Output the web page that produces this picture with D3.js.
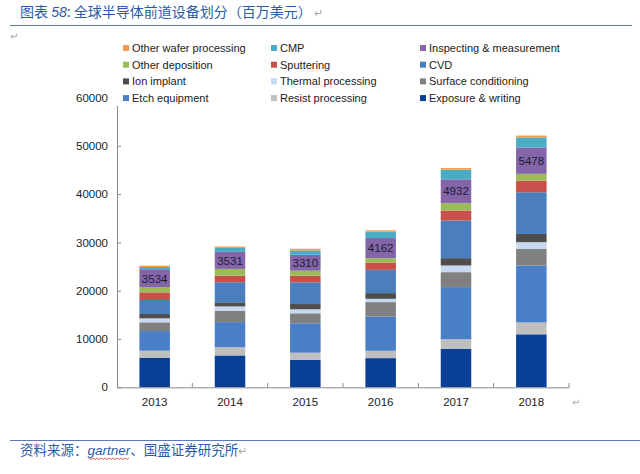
<!DOCTYPE html>
<html>
<head>
<meta charset="utf-8">
<script src="https://cdn.jsdelivr.net/npm/d3@7"></script>
<style>
  body { margin: 0; background: #fff; }
  svg { display: block; }
  .tick text { font-family: "Liberation Sans", Arial, sans-serif; font-size: 11.5px; fill: #222; }
</style>
</head>
<body>
<svg id="chart" width="640" height="474"></svg>
<script>
// years along the x axis
var years = ["2013", "2014", "2015", "2016", "2017", "2018"];

// series, bottom of the stack first
var seriesNames = ["Exposure & writing", "Resist processing", "Etch equipment", "Surface conditioning",
                   "Thermal processing", "Ion implant", "CVD", "Sputtering", "Other deposition",
                   "Inspecting & measurement", "CMP", "Other wafer processing"];
var seriesColors = ["#0a3f96", "#bfbfbf", "#4a7fc8", "#808080",
                    "#c6d9f0", "#4d4d4d", "#4b7ebd", "#c9504a", "#9bbb59",
                    "#8466a8", "#49adc6", "#f59a4e"];

// values in million USD
var exposure   = [6130, 6600, 5650, 6040, 8000, 10970];
var resist     = [1450, 1700, 1510, 1520, 1940, 2450];
var etch       = [4070, 5200, 6090, 7100, 10800, 11800];
var surface    = [1800, 2350, 2070, 2980, 3100, 3450];
var thermal    = [830, 900, 830, 680, 1380, 1380];
var ionImplant = [890, 850, 1090, 1180, 1520, 1700];
var cvd        = [2900, 4150, 4500, 4820, 7800, 8630];
var sputtering = [1590, 1370, 1360, 1510, 2070, 2420];
var otherDep   = [1100, 1390, 1040, 910, 1510, 1390];
var inspecting = [3534, 3531, 3310, 4162, 4932, 5478];
var cmp        = [620, 800, 880, 1300, 2000, 2070];
var otherWafer = [270, 300, 350, 300, 340, 380];

var yTicks = [0, 10000, 20000, 30000, 40000, 50000, 60000];

var allSeries = [exposure, resist, etch, surface, thermal, ionImplant, cvd,
                 sputtering, otherDep, inspecting, cmp, otherWafer];

// table for d3.stack
var rows = years.map(function(y, i){
    var r = {year: y};
    seriesNames.forEach(function(n, j){ r[n] = allSeries[j][i]; });
    return r;
});

var svg = d3.select("#chart");

var x = d3.scaleBand().domain(years).range([117, 569]).paddingInner(0.595).paddingOuter(0.2975);
var y = d3.scaleLinear().domain([0, 60000]).range([387.3, 97.5]);
var color = d3.scaleOrdinal().domain(seriesNames).range(seriesColors);

var stacked = d3.stack().keys(seriesNames)(rows);

// bars
svg.append("g").selectAll("g")
    .data(stacked).enter().append("g")
    .attr("fill", function(d){ return color(d.key); })
    .selectAll("rect")
    .data(function(d){ return d; }).enter().append("rect")
    .attr("x", function(d){ return x(d.data.year); })
    .attr("width", x.bandwidth())
    .attr("y", function(d){ return y(d[1]); })
    .attr("height", function(d){ return y(d[0]) - y(d[1]); });

// value labels on the inspecting segment
var insp = stacked[seriesNames.indexOf("Inspecting & measurement")];
svg.append("g").selectAll("text")
    .data(insp).enter().append("text")
    .attr("x", function(d){ return x(d.data.year) + x.bandwidth()/2; })
    .attr("y", function(d){ return (y(d[0]) + y(d[1]))/2; })
    .attr("dy", "0.36em")
    .attr("text-anchor", "middle")
    .style("font-family", "Liberation Sans, Arial, sans-serif")
    .style("font-size", "11.5px")
    .style("fill", "#1b1b33")
    .text(function(d){ return d.data["Inspecting & measurement"]; });

// y axis, ticks point inward
var yAxis = svg.append("g").attr("transform", "translate(117,0)")
    .call(d3.axisLeft(y).tickValues(yTicks).tickSize(-4).tickSizeOuter(0).tickPadding(9).tickFormat(d3.format("d")));
yAxis.selectAll("line, path").attr("stroke", "#8a8a8a");

// x axis, labels centred, ticks at category boundaries
var xAxis = svg.append("g").attr("transform", "translate(0,387.3)")
    .call(d3.axisBottom(x).tickSize(0).tickSizeOuter(0).tickPadding(11));
xAxis.select("path").attr("stroke", "#8a8a8a");
var step = x.step();
svg.append("g").selectAll("line")
    .data(years).enter().append("line")
    .attr("x1", function(d, i){ return 117 + step*(i+1); })
    .attr("x2", function(d, i){ return 117 + step*(i+1); })
    .attr("y1", 387.3).attr("y2", 383)
    .attr("stroke", "#8a8a8a");

// legend (covers the top of the axis like the original)
svg.append("rect").attr("x", 110).attr("y", 38).attr("width", 480).attr("height", 68).attr("fill", "#fff");
var legendNames = seriesNames.slice().reverse();
var colX = [123, 271, 420];
var legend = svg.append("g").selectAll("g")
    .data(legendNames).enter().append("g")
    .attr("transform", function(d, i){
        return "translate(" + colX[i % 3] + "," + (48 + Math.floor(i/3)*16.7) + ")";
    });
legend.append("rect").attr("x", 0).attr("y", -3).attr("width", 6).attr("height", 6)
    .attr("fill", function(d){ return color(d); });
legend.append("text").attr("x", 9).attr("dy", "0.36em")
    .style("font-family", "Liberation Sans, Arial, sans-serif")
    .style("font-size", "11px")
    .style("fill", "#222")
    .text(function(d){ return d; });

// title and source, as in the report page
var blue = "#2b5ba8";
var title = svg.append("text").attr("x", 20).attr("y", 17)
    .style("font-family", "Noto Sans CJK SC, sans-serif").style("font-size", "14px").style("fill", blue);
title.append("tspan").text("图表 ");
title.append("tspan").style("font-style", "italic").style("font-family", "Liberation Sans, sans-serif").text(" 58");
title.append("tspan").text(":  全球半导体前道设备划分（百万美元）");
title.append("tspan").style("fill", "#aaa").style("font-size", "11px").text(" ↵");

svg.append("line").attr("x1", 10).attr("x2", 632).attr("y1", 25.5).attr("y2", 25.5)
    .attr("stroke", "#5a7bb5").attr("stroke-width", 1.2);
svg.append("text").attr("x", 10).attr("y", 40).style("font-size", "10px").style("fill", "#aaa")
    .style("font-family", "DejaVu Sans, sans-serif").text("↵");
svg.append("text").attr("x", 572).attr("y", 406).style("font-size", "10px").style("fill", "#aaa")
    .style("font-family", "DejaVu Sans, sans-serif").text("↵");

svg.append("line").attr("x1", 10).attr("x2", 640).attr("y1", 440.5).attr("y2", 440.5)
    .attr("stroke", "#5a7bb5").attr("stroke-width", 1);
var source = svg.append("text").attr("x", 20).attr("y", 455)
    .style("font-family", "Noto Sans CJK SC, sans-serif").style("font-size", "13.5px").style("fill", blue);
source.append("tspan").text("资料来源：");
source.append("tspan").style("font-style", "italic")
    .style("font-family", "Liberation Sans, sans-serif").text("gartner");
source.append("tspan").text("、国盛证券研究所");
source.append("tspan").style("fill", "#aaa").style("font-size", "11px").text("↵");

// spell-check squiggle under "gartner"
var pts = [];
for (var px = 89, k = 0; px <= 130; px += 2, k++) pts.push([px, 458 + (k % 2 ? 1.5 : 0)]);
svg.append("path").attr("d", d3.line()(pts)).attr("fill", "none").attr("stroke", "#d33").attr("stroke-width", 0.8);
</script>
</body>
</html>
